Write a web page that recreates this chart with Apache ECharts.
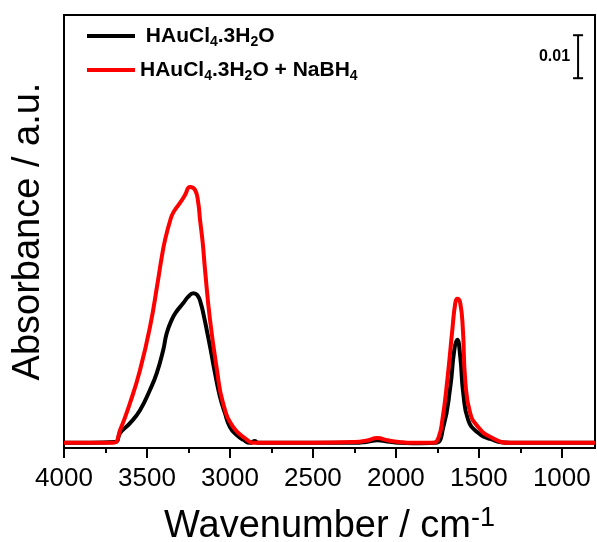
<!DOCTYPE html>
<html>
<head>
<meta charset="utf-8">
<script src="https://cdn.jsdelivr.net/npm/echarts@6/dist/echarts.min.js"></script>
<style>
html, body { margin: 0; padding: 0; background: #fff; }
#box1 { width: 597px; height: 542px; }
</style>
</head>
<body>
<div id="box1"></div>
<script>
var font = 'Liberation Sans, Arial, sans-serif';

// HAuCl4.3H2O (black)
var blackName = 'HAuCl4.3H2O';
var blackWn = [4000, 3693, 3662, 3602, 3542, 3482, 3441, 3402, 3381, 3351, 3321, 3281, 3251, 3221, 3197, 3176, 3156, 3136, 3116, 3090, 3060, 3030, 3000, 2959, 2919, 2879, 2849, 2830, 2500, 2250, 2180, 2111, 2050, 1980, 1900, 1762, 1714, 1672, 1648, 1630, 1612, 1594, 1564, 1510, 1432, 1311, 800];
var blackAbs = [0.0012, 0.0014, 0.0035, 0.0058, 0.0088, 0.0135, 0.0174, 0.0228, 0.0267, 0.0298, 0.0318, 0.0337, 0.0352, 0.0360, 0.0356, 0.0337, 0.0305, 0.0267, 0.0228, 0.0174, 0.0119, 0.0081, 0.0049, 0.0030, 0.0019, 0.0012, 0.0016, 0.0012, 0.0012, 0.0012, 0.0014, 0.0018, 0.0015, 0.0012, 0.0011, 0.0012, 0.0049, 0.0142, 0.0228, 0.0252, 0.0212, 0.0128, 0.0065, 0.0037, 0.0021, 0.0012, 0.0012];

// HAuCl4.3H2O + NaBH4 (red)
var redName = 'HAuCl4.3H2O + NaBH4';
var redWn = [4000, 3705, 3662, 3602, 3542, 3482, 3433, 3411, 3391, 3361, 3341, 3301, 3271, 3241, 3210, 3191, 3180, 3164, 3150, 3120, 3078, 3042, 2981, 2897, 2861, 2500, 2250, 2180, 2111, 2050, 1980, 1900, 1774, 1744, 1720, 1690, 1660, 1642, 1630, 1612, 1596, 1582, 1552, 1504, 1432, 1311, 800];
var redAbs = [0.0012, 0.0012, 0.0042, 0.0105, 0.0181, 0.0281, 0.0391, 0.0444, 0.0484, 0.0528, 0.0548, 0.0570, 0.0588, 0.0607, 0.0600, 0.0570, 0.0530, 0.0477, 0.0414, 0.0298, 0.0181, 0.0105, 0.0049, 0.0019, 0.0012, 0.0012, 0.0014, 0.0017, 0.0023, 0.0018, 0.0014, 0.0012, 0.0012, 0.0023, 0.0065, 0.0158, 0.0274, 0.0337, 0.0347, 0.0337, 0.0274, 0.0158, 0.0081, 0.0049, 0.0026, 0.0012, 0.0012];

var majorTicks = [4000, 3500, 3000, 2500, 2000, 1500, 1000];
var minorTicks = [3750, 3250, 2750, 2250, 1750, 1250];

// scale bar: 0.01 absorbance
var scaleBarWn = 902;
var scaleBarTop = 0.096;
var scaleBarSize = 0.01;

function pairs(xs, ys) {
  var out = [];
  for (let i = 0; i < xs.length; i++) {
    out.push([xs[i], ys[i]]);
  }
  return out;
}

var legendText = {};
legendText[blackName] = ' HAuCl{sub|4}.3H{sub|2}O';
legendText[redName] = 'HAuCl{sub|4}.3H{sub|2}O + NaBH{sub|4}';

var xBase = {
  type: 'value',
  min: 800,
  max: 4000,
  inverse: true,
  position: 'bottom',
  splitLine: { show: false }
};

var option = {
  animation: false,
  grid: {
    left: 64, right: 2, top: 15, bottom: 94,
    outerBoundsMode: 'none',
    containLabel: false,
    show: true,
    borderColor: '#000',
    borderWidth: 2
  },
  legend: {
    left: 82,
    top: 18,
    orient: 'vertical',
    icon: 'rect',
    itemWidth: 48,
    itemHeight: 4,
    itemGap: 8,
    data: [blackName, redName],
    formatter: function (name) { return legendText[name]; },
    textStyle: {
      fontFamily: font,
      fontSize: 21,
      fontWeight: 'bold',
      color: '#000',
      lineHeight: 26,
      rich: {
        sub: { fontFamily: font, fontSize: 14, fontWeight: 'bold', color: '#000', lineHeight: 12, verticalAlign: 'bottom' }
      }
    }
  },
  xAxis: [
    Object.assign({}, xBase, {
      name: 'Wavenumber / cm{sup|-1}',
      nameLocation: 'middle',
      nameGap: 57,
      nameTextStyle: {
        fontFamily: font,
        fontSize: 38,
        color: '#000',
        lineHeight: 44,
        rich: {
          sup: { fontFamily: font, fontSize: 27, color: '#000', lineHeight: 30, verticalAlign: 'top' }
        }
      },
      axisLine: { show: true, lineStyle: { color: '#000', width: 2 } },
      axisTick: { show: true, inside: false, length: 10, customValues: majorTicks, lineStyle: { color: '#000', width: 2 } },
      axisLabel: {
        show: true, margin: 18, customValues: majorTicks,
        formatter: function (v) { return String(v); },
        fontFamily: font, fontSize: 26, color: '#000'
      }
    }),
    Object.assign({}, xBase, {
      axisLine: { show: false },
      axisTick: { show: true, inside: false, length: 5, customValues: minorTicks, lineStyle: { color: '#000', width: 2 } },
      axisLabel: { show: false }
    })
  ],
  yAxis: {
    type: 'value',
    min: 0,
    max: 0.1007,
    name: 'Absorbance / a.u.',
    nameLocation: 'middle',
    nameGap: 16,
    nameTextStyle: { fontFamily: font, fontSize: 38, color: '#000' },
    axisLine: { show: true, lineStyle: { color: '#000', width: 2 } },
    axisTick: { show: false },
    axisLabel: { show: false },
    splitLine: { show: false }
  },
  series: [
    {
      name: blackName,
      type: 'line',
      data: pairs(blackWn, blackAbs),
      showSymbol: false,
      smooth: 0.5,
      itemStyle: { color: '#000' },
      lineStyle: { color: '#000', width: 4 }
    },
    {
      name: redName,
      type: 'line',
      data: pairs(redWn, redAbs),
      showSymbol: false,
      smooth: 0.5,
      itemStyle: { color: '#ff0000' },
      lineStyle: { color: '#ff0000', width: 4 }
    }
  ]
};

var myChart = echarts.init(document.getElementById('box1'));
myChart.setOption(option);

// scale bar through the chart's own scale
var pTop = myChart.convertToPixel({ gridIndex: 0 }, [scaleBarWn, scaleBarTop]);
var pBot = myChart.convertToPixel({ gridIndex: 0 }, [scaleBarWn, scaleBarTop - scaleBarSize]);
var barStyle = { stroke: '#000', lineWidth: 2 };
myChart.setOption({
  graphic: [
    { type: 'line', shape: { x1: pTop[0], y1: pTop[1], x2: pBot[0], y2: pBot[1] }, style: barStyle },
    { type: 'line', shape: { x1: pTop[0] - 5, y1: pTop[1], x2: pTop[0] + 5, y2: pTop[1] }, style: barStyle },
    { type: 'line', shape: { x1: pBot[0] - 5, y1: pBot[1], x2: pBot[0] + 5, y2: pBot[1] }, style: barStyle },
    {
      type: 'text',
      x: pTop[0] - 8,
      y: (pTop[1] + pBot[1]) / 2,
      style: {
        text: '0.01',
        fontFamily: font,
        fontSize: 16,
        fontWeight: 'bold',
        fill: '#000',
        align: 'right',
        verticalAlign: 'middle'
      }
    }
  ]
});
</script>
</body>
</html>
